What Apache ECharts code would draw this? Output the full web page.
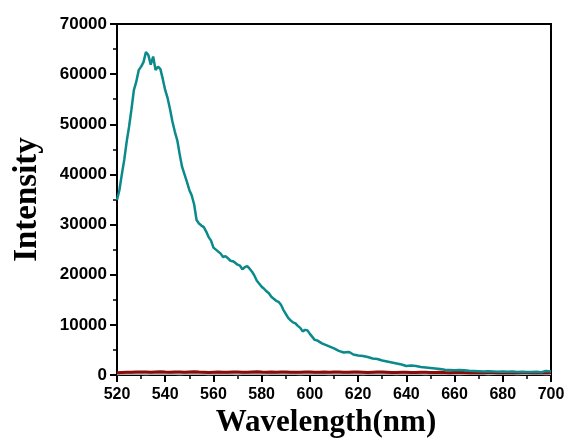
<!DOCTYPE html>
<html><head><meta charset="utf-8">
<script src="https://cdn.jsdelivr.net/npm/echarts@6/dist/echarts.min.js"></script>
<style>html,body{margin:0;padding:0;background:#fff}#c{width:569px;height:444px}</style>
</head><body><div id="c"></div>
<script>
const xTicks = [520,540,560,580,600,620,640,660,680,700];
const yTicks = [0,10000,20000,30000,40000,50000,60000,70000];

const tealWl = [520,521,522,523,524,525,526,527,528,529,530,531,532,533,534,535,536,537,538,539,540,541,542,543,544,545,546,547,548,549,550,551,552,553,554,555,556,557,558,559,560,561,562,563,564,565,566,567,568,569,570,571,572,573,574,575,576,577,578,579,580,581,582,583,584,585,586,587,588,589,590,591,592,593,594,595,596,597,598,599,600,601,602,603,604,605,606,607,608,609,610,612,614,616,617,618,620,622,624,626,628,630,632,634,636,638,640,642,644,646,648,650,652,654,656,658,660,662,664,666,668,670,672,674,676,678,680,682,684,686,688,690,692,694,696,698,700];
const tealVal = [34900,36900,40000,42900,46500,49500,53000,56800,58500,60800,61500,62400,64400,63800,61900,63500,60800,61500,61000,59000,56800,55200,53000,50500,48500,46800,44000,41500,40000,38500,36900,35800,34000,30900,30200,29800,29500,28600,27500,26800,25400,25000,24600,24200,23500,23700,23300,22800,22700,22400,22000,21800,21100,21500,21700,21200,20600,19800,18800,18200,17600,17200,16700,16300,15600,15200,14800,14600,14000,13000,12200,11400,10900,10500,10300,9800,9400,8700,9000,8900,8200,7600,7000,6900,6600,6300,6100,5900,5700,5500,5300,4800,4500,4600,4400,4100,3900,3800,3600,3300,3200,2900,2700,2500,2300,2100,1800,1900,1800,1600,1500,1400,1300,1200,1050,1000,950,1000,950,850,800,750,700,750,700,650,700,650,700,600,650,600,600,650,550,800,700];

const baseWl = [];
for (let w = 520; w <= 700; w += 2) baseWl.push(w);
const redVal = [450,520,560,540,600,580,620,560,600,640,
590,560,610,580,540,600,630,580,560,520,
570,600,560,540,580,620,570,550,600,640,
580,560,600,540,580,610,570,530,560,600,
620,570,540,590,560,600,580,540,570,620,
600,560,520,560,600,580,540,500,520,560,
540,500,480,530,560,520,500,540,480,460,
500,520,480,450,500,470,440,480,520,470,
450,490,460,440,480,500,460,440,470,450,
480];
const grayVal = [150,200,180,220,190,210,170,200,230,190,
180,210,200,170,220,190,180,210,200,170,
190,220,180,200,210,170,200,230,190,180,
200,170,210,190,220,180,200,190,170,210,
200,180,220,190,170,210,200,180,190,220,
200,170,190,210,180,200,220,190,170,200,
210,180,190,200,170,210,190,180,200,220,
190,170,200,210,180,190,200,170,210,190,
180,200,190,170,210,200,180,190,200,170,
190];

const zip = (a, b) => a.map((v, i) => [v, b[i]]);

const chart = echarts.init(document.getElementById('c'), null, {renderer: 'canvas'});
const labelFont = {fontFamily: 'Liberation Sans, Arial, sans-serif', fontWeight: 'bold', fontSize: 16, color: '#000'};
const titleFont = {fontFamily: 'Liberation Serif, Times New Roman, serif', fontWeight: 'bold', fontSize: 31, color: '#000'};
chart.setOption({
  animation: false,
  backgroundColor: '#fff',
  grid: {left: 117, right: 18, top: 24, bottom: 69, show: true, borderColor: '#000', borderWidth: 2, backgroundColor: 'transparent'},
  xAxis: {
    type: 'value', min: 520, max: 700, interval: 20,
    name: 'Wavelength(nm)', nameLocation: 'middle', nameGap: 29,
    nameTextStyle: Object.assign({padding: [0, 16, 0, 0]}, titleFont),
    axisLine: {show: true, lineStyle: {color: '#000', width: 2}},
    axisTick: {show: true, inside: false, length: 7, lineStyle: {color: '#000', width: 2}},
    minorTick: {show: true, splitNumber: 2, length: 4, lineStyle: {color: '#000', width: 1.5}},
    axisLabel: Object.assign({margin: 12, formatter: v => xTicks.includes(v) ? String(v) : ''}, labelFont),
    splitLine: {show: false}
  },
  yAxis: {
    type: 'value', min: 0, max: 70000, interval: 10000,
    name: 'Intensity', nameLocation: 'middle', nameGap: 73,
    nameTextStyle: Object.assign({}, titleFont, {fontSize: 33}),
    axisLine: {show: true, lineStyle: {color: '#000', width: 2}},
    axisTick: {show: true, inside: false, length: 7, lineStyle: {color: '#000', width: 2}},
    minorTick: {show: true, splitNumber: 2, length: 4, lineStyle: {color: '#000', width: 1.5}},
    axisLabel: Object.assign({margin: 10, formatter: v => yTicks.includes(v) ? String(v) : ''}, labelFont, {fontSize: 17}),
    splitLine: {show: false}
  },
  series: [
    {type: 'line', data: zip(baseWl, grayVal), symbol: 'none', lineStyle: {color: '#b0b0b0', width: 2}},
    {type: 'line', data: zip(baseWl, redVal), symbol: 'none', lineStyle: {color: '#8b0a0a', width: 3}},
    {type: 'line', data: zip(tealWl, tealVal), symbol: 'none', lineStyle: {color: '#0a8a8a', width: 2.5}}
  ]
});
</script></body></html>
